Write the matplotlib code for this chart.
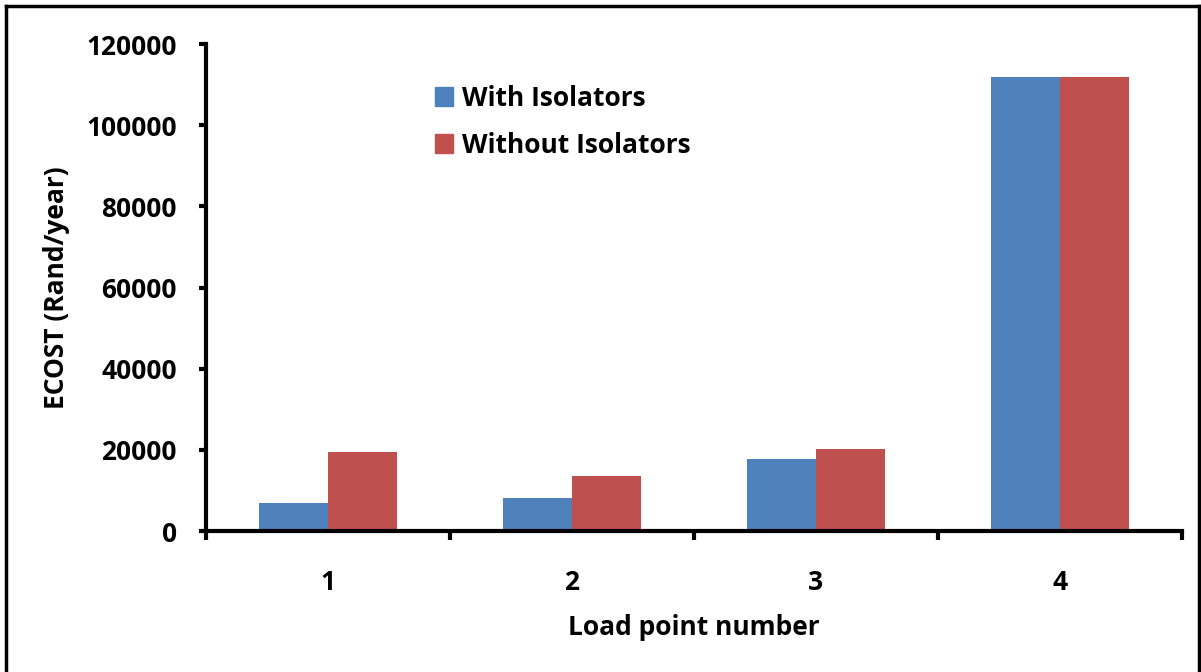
import matplotlib
matplotlib.use("Agg")
import matplotlib.pyplot as plt
import numpy as np
from matplotlib.lines import Line2D
from matplotlib.patches import Patch

load_points = ["1", "2", "3", "4"]
with_isolators = [6800, 8100, 17700, 111900]
without_isolators = [19400, 13600, 20300, 111900]
y_ticks = [0, 20000, 40000, 60000, 80000, 100000, 120000]

BLUE = "#4F81BD"
RED = "#C0504D"
FS = 19

plt.rcParams["font.family"] = ["Open Sans", "DejaVu Sans"]
plt.rcParams["font.weight"] = "bold"

fig = plt.figure(figsize=(12.01, 6.72), dpi=100)
ax = fig.add_axes([0.1715, 0.2098, 0.8125, 0.7247])

x = np.arange(len(load_points))
w = 0.283
ax.bar(x - w / 2, with_isolators, w, color=BLUE, label="With Isolators")
ax.bar(x + w / 2, without_isolators, w, color=RED, label="Without Isolators")

ax.set_xlim(-0.5, len(load_points) - 0.5)
ax.set_ylim(0, 120000)
ax.set_yticks(y_ticks)
ax.set_yticklabels([str(v) for v in y_ticks], fontsize=FS, fontweight="bold")
ax.set_xticks(x)
ax.set_xticklabels(load_points, fontsize=FS, fontweight="bold")
ax.tick_params(axis="x", length=0, pad=27)
ax.tick_params(axis="y", length=5, width=3, pad=16)

# category separators on the x axis, pointing down
for b in np.arange(-0.5, len(load_points)):
    ax.plot([b, b], [0, -2200], color="black", lw=3, clip_on=False,
            solid_capstyle="butt")

for side in ("top", "right"):
    ax.spines[side].set_visible(False)
for side in ("left", "bottom"):
    ax.spines[side].set_linewidth(3)

ax.set_xlabel("Load point number", fontsize=FS, fontweight="bold", labelpad=13)
ax.set_ylabel("ECOST (Rand/year)", fontsize=FS, fontweight="bold", labelpad=12)

handles = [Patch(color=BLUE), Patch(color=RED)]
ax.legend(handles, ["With Isolators", "Without Isolators"],
          loc="upper left", bbox_to_anchor=(0.21, 0.965), frameon=False,
          prop={"size": FS, "weight": "bold"}, handlelength=0.7,
          handleheight=0.7, handletextpad=0.35, labelspacing=0.75)

# outer frame
for xs, ys in [((6 / 1201, 6 / 1201), (0, 1 - 6 / 672)),
               ((6 / 1201, 1199 / 1201), (1 - 6 / 672, 1 - 6 / 672)),
               ((1199 / 1201, 1199 / 1201), (0, 1 - 6 / 672))]:
    fig.add_artist(Line2D(xs, ys, color="black", lw=2.5, transform=fig.transFigure))

fig.savefig("out.png", dpi=100)
